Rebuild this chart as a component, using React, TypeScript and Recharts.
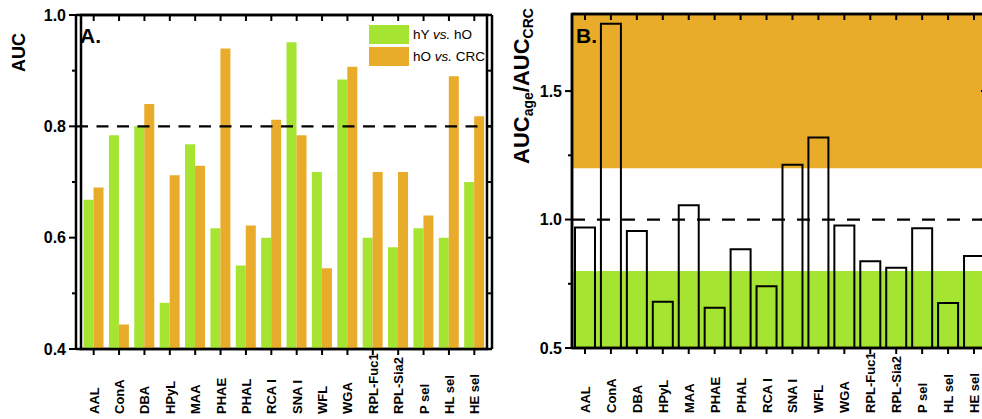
import React from "react";
import {
  BarChart,
  Bar,
  XAxis,
  YAxis,
  ReferenceLine,
  ReferenceArea,
  Legend,
} from "recharts";

const FONT = "'Liberation Sans', Arial, Helvetica, sans-serif";
const GREEN = "#a6e432";
const ORANGE = "#e8ac2a";

const lectins = [
  "AAL", "ConA", "DBA", "HPyL", "MAA", "PHAE", "PHAL", "RCA I",
  "SNA I", "WFL", "WGA", "RPL-Fuc1", "RPL-Sia2", "P sel", "HL sel", "HE sel",
];
// panel A: AUC per lectin
const aucYoungVsOld = [0.668, 0.784, 0.8, 0.483, 0.768, 0.617, 0.55, 0.6, 0.951, 0.718, 0.884, 0.6, 0.583, 0.617, 0.6, 0.7];
const aucOldVsCrc = [0.69, 0.444, 0.84, 0.712, 0.729, 0.94, 0.622, 0.812, 0.784, 0.545, 0.907, 0.718, 0.718, 0.64, 0.89, 0.818];
// panel B: AUC(age) / AUC(CRC)
const aucRatio = [0.969, 1.762, 0.955, 0.68, 1.056, 0.657, 0.884, 0.74, 1.213, 1.319, 0.977, 0.838, 0.812, 0.966, 0.675, 0.858];

const aucTicks = [0.4, 0.5, 0.6, 0.7, 0.8, 0.9, 1.0];
const ratioTicks = [0.5, 0.75, 1.0, 1.25, 1.5];

const rowsA = lectins.map((name, i) => ({ name, young: aucYoungVsOld[i], crc: aucOldVsCrc[i] }));
const rowsB = lectins.map((name, i) => ({ name, ratio: aucRatio[i] }));

const AXIS = { stroke: "#000", strokeWidth: 2.5 };
const seriesOrder = ["young", "crc"];

const isMajorA = (v: number) => Math.round(v * 10) % 2 === 0;
const isMajorB = (v: number) => Math.abs(v * 2 - Math.round(v * 2)) < 1e-6;

const leftTick = (isMajor: (v: number) => boolean) => (props: any) => {
  const { x, y, payload } = props;
  const major = isMajor(payload.value);
  return (
    <g>
      <line x1={x - (major ? 7 : 4)} x2={x} y1={y} y2={y} stroke="#000" strokeWidth={2} />
      {major && (
        <text x={x - 10} y={y} dy="0.36em" textAnchor="end" fontSize={16} fontWeight="bold" fontFamily={FONT} fill="#000">
          {Number(payload.value).toFixed(1)}
        </text>
      )}
    </g>
  );
};

const rightTick = (isMajor: (v: number) => boolean) => (props: any) => {
  const { x, y, payload } = props;
  const len = isMajor(payload.value) ? 6 : 4;
  return <line x1={x - len} x2={x} y1={y} y2={y} stroke="#000" strokeWidth={2} />;
};

const topTick = (props: any) => {
  const { x, y } = props;
  return <line x1={x} x2={x} y1={y} y2={y + 6} stroke="#000" strokeWidth={2} />;
};

const lectinTick = (props: any) => {
  const { x, y, payload } = props;
  return (
    <text
      transform={`translate(${x + 5},${y + 57}) rotate(-90)`}
      textAnchor="start"
      fontSize={13}
      fontWeight="bold"
      fontFamily={FONT}
      fill="#000"
    >
      {payload.value}
    </text>
  );
};

function AucTitle() {
  return (
    <text transform="translate(25,72) rotate(-90)" fontSize={18} fontWeight="bold" fontFamily={FONT} fill="#000">
      AUC
    </text>
  );
}

function RatioTitle() {
  return (
    <text transform="translate(39,164) rotate(-90)" fontSize={22} fontWeight="bold" fontFamily={FONT} fill="#000">
      AUC
      <tspan fontSize={14} dy={4}>age</tspan>
      <tspan dy={-4}>/AUC</tspan>
      <tspan fontSize={14} dy={4}>CRC</tspan>
    </text>
  );
}

function TagA() {
  return (
    <text x={80} y={43} fontSize={21} fontWeight="bold" fontFamily={FONT} fill="#000">
      A.
    </text>
  );
}

function TagB() {
  return (
    <text x={86} y={43} fontSize={21} fontWeight="bold" fontFamily={FONT} fill="#000">
      B.
    </text>
  );
}

function LegendBox(props: any) {
  const items = (props.payload || [])
    .slice()
    .sort((p: any, q: any) => seriesOrder.indexOf(p.dataKey) - seriesOrder.indexOf(q.dataKey));
  return (
    <div style={{ fontFamily: FONT, fontSize: 13.5, color: "#000" }}>
      {items.map((it: any) => {
        const [a, b] = String(it.value).split(" vs. ");
        return (
          <div key={it.value} style={{ display: "flex", alignItems: "center", height: 19, marginBottom: 2.5 }}>
            <div style={{ width: 40, height: 19, background: it.color }} />
            <span style={{ marginLeft: 4, whiteSpace: "nowrap" }}>
              {a} <i>vs.</i> {b}
            </span>
          </div>
        );
      })}
    </div>
  );
}

export default function App() {
  return (
    <div style={{ position: "absolute", left: 0, top: 0, width: 982, height: 419, overflow: "hidden", background: "#fff" }}>
      <div style={{ position: "absolute", left: 0, top: 0 }}>
        <BarChart
          width={510}
          height={419}
          data={rowsA}
          margin={{ top: 14, right: 17, bottom: 0, left: 0 }}
          barGap={0}
          barCategoryGap="10%"
        >
          <XAxis
            dataKey="name"
            interval={0}
            height={70}
            padding={{ left: 5, right: 5 }}
            axisLine={AXIS}
            tickLine={{ stroke: "#000", strokeWidth: 2 }}
            tickSize={6}
            tickMargin={2}
            tick={lectinTick}
          />
          <XAxis
            xAxisId="top"
            orientation="top"
            dataKey="name"
            interval={0}
            height={1}
            padding={{ left: 5, right: 5 }}
            axisLine={AXIS}
            tickLine={false}
            tickSize={0}
            tickMargin={0}
            tick={topTick}
            label={<TagA />}
          />
          <YAxis
            type="number"
            domain={[0.4, 1.0]}
            ticks={aucTicks}
            interval={0}
            allowDataOverflow
            width={76}
            axisLine={AXIS}
            tickLine={false}
            tickSize={0}
            tickMargin={0}
            tick={leftTick(isMajorA)}
            label={<AucTitle />}
          />
          <YAxis
            yAxisId="right"
            orientation="right"
            type="number"
            domain={[0.4, 1.0]}
            ticks={aucTicks}
            interval={0}
            allowDataOverflow
            width={1}
            axisLine={AXIS}
            tickLine={false}
            tickSize={0}
            tickMargin={0}
            tick={rightTick(isMajorA)}
          />
          <Legend
            layout="vertical"
            align="center"
            verticalAlign="middle"
            content={<LegendBox />}
            wrapperStyle={{ position: "absolute", left: 369, top: 25, width: "auto", height: "auto" }}
          />
          <Bar dataKey="young" name="hY vs. hO" fill={GREEN} isAnimationActive={false} />
          <Bar dataKey="crc" name="hO vs. CRC" fill={ORANGE} isAnimationActive={false} />
          <ReferenceLine y={0.8} stroke="#000" strokeWidth={2.2} strokeDasharray="12 8.5" />
          <ReferenceArea y1={0.4} y2={1.0} fill="none" stroke="#000" strokeWidth={2.5} ifOverflow="visible" />
        </BarChart>
      </div>

      <div style={{ position: "absolute", left: 490, top: 0 }}>
        <BarChart
          width={510}
          height={419}
          data={rowsB}
          margin={{ top: 13, right: 12, bottom: 0, left: 0 }}
          barCategoryGap="11.5%"
        >
          <ReferenceArea y1={1.2} y2={1.8} fill={ORANGE} fillOpacity={1} stroke="none" ifOverflow="hidden" />
          <ReferenceArea y1={0.5} y2={0.8} fill={GREEN} fillOpacity={1} stroke="none" ifOverflow="hidden" />
          <XAxis
            dataKey="name"
            interval={0}
            height={71}
            axisLine={AXIS}
            tickLine={{ stroke: "#000", strokeWidth: 2 }}
            tickSize={6}
            tickMargin={2}
            tick={lectinTick}
          />
          <XAxis
            xAxisId="top"
            orientation="top"
            dataKey="name"
            interval={0}
            height={1}
            axisLine={AXIS}
            tickLine={false}
            tickSize={0}
            tickMargin={0}
            tick={topTick}
            label={<TagB />}
          />
          <YAxis
            type="number"
            domain={[0.5, 1.8]}
            ticks={ratioTicks}
            interval={0}
            allowDataOverflow
            width={82}
            axisLine={AXIS}
            tickLine={false}
            tickSize={0}
            tickMargin={0}
            tick={leftTick(isMajorB)}
            label={<RatioTitle />}
          />
          <YAxis
            yAxisId="right"
            orientation="right"
            type="number"
            domain={[0.5, 1.8]}
            ticks={ratioTicks}
            interval={0}
            allowDataOverflow
            width={1}
            axisLine={AXIS}
            tickLine={false}
            tickSize={0}
            tickMargin={0}
            tick={rightTick(isMajorB)}
          />
          <Bar dataKey="ratio" fill="none" stroke="#000" strokeWidth={2} isAnimationActive={false} />
          <ReferenceLine y={1.0} stroke="#000" strokeWidth={2.2} strokeDasharray="13 12" />
          <ReferenceArea y1={0.5} y2={1.8} fill="none" stroke="#000" strokeWidth={2.5} ifOverflow="visible" />
        </BarChart>
      </div>
    </div>
  );
}
